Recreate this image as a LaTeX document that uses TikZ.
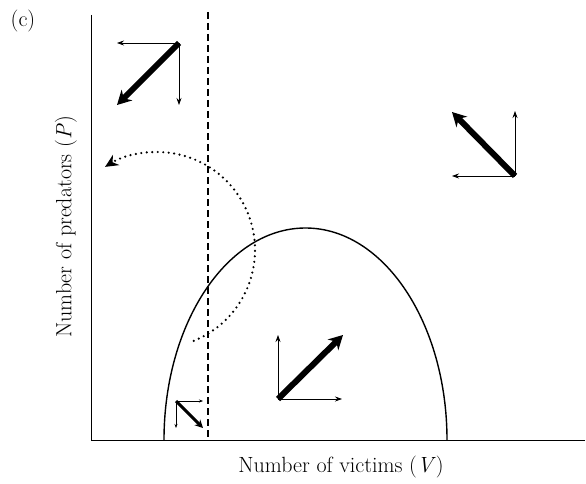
\documentclass[tikz,border=0pt]{standalone}
\usepackage{amsmath,amssymb}
\usepackage{xcolor}
\usepackage{tikz}
\usetikzlibrary{arrows.meta,positioning,calc}

\tikzset{
  flowline/.style={line width=0.7pt,-{Stealth[length=7pt,width=5pt]}},
  trendline/.style={line width=6pt,-{Stealth[length=14pt,width=15pt]}},
  smalltrend/.style={line width=3pt,-{Stealth[length=8pt,width=8pt]}},
  axislabel/.style={font=\fontsize{22}{26}\selectfont},
}

\begin{document}
\begin{tikzpicture}[x=1pt,y=1pt]
  \useasboundingbox (0,0) rectangle (586,483);
  % axes
  \coordinate (O) at (91,43);
  \coordinate (ytop) at (91,468);
  \coordinate (xend) at (585,43);
  \draw[line width=0.7pt] (ytop) -- (O) -- (xend);
  \node[axislabel] (lab) at (23,462) {(c)};
  \node[axislabel] (xlab) at (341,16) {Number of victims (\textit{V})};
  \node[axislabel,rotate=90] (ylab) at (66,256) {Number of predators (\textit{P})};
  % isoclines
  \coordinate (dtop) at (208,471);
  \coordinate (dbot) at (208,43);
  \draw[line width=1.3pt,dash pattern=on 7pt off 4pt] (dtop) -- (dbot);
  \coordinate (hump) at (164,43);
  \draw[line width=1.4pt] (hump) arc[start angle=180,end angle=0,x radius=141.5,y radius=212];
  % cycle
  \coordinate (cyc) at ($(157,233)+(-68:98)$);
  \draw[line width=2.4pt,line cap=round,dash pattern=on 0pt off 5.5pt,
        -{Stealth[length=13pt,width=12pt,line cap=butt]}]
    (cyc) arc[start angle=-68,end angle=122,radius=98];
  % upper left
  \coordinate (a0) at (179,440);
  \coordinate (a1) at (117,440);
  \coordinate (a2) at (179,378);
  \coordinate (a3) at (117,378);
  \draw[flowline] (a0) -- (a1);
  \draw[flowline] (a0) -- (a2);
  \draw[trendline] (a0) -- (a3);
  % upper right
  \coordinate (b0) at (515,307);
  \coordinate (b1) at (452,307);
  \coordinate (b2) at (515,372);
  \coordinate (b3) at (452,371);
  \draw[flowline] (b0) -- (b1);
  \draw[flowline] (b0) -- (b2);
  \draw[trendline] (b0) -- (b3);
  % inside hump
  \coordinate (c0) at (278,84);
  \coordinate (c1) at (342,84);
  \coordinate (c2) at (278,148);
  \coordinate (c3) at (343,148);
  \draw[flowline] (c0) -- (c1);
  \draw[flowline] (c0) -- (c2);
  \draw[trendline] (c0) -- (c3);
  % small corner
  \coordinate (d0) at (176,82);
  \coordinate (d1) at (203,82);
  \coordinate (d2) at (176,55);
  \coordinate (d3) at (203,55);
  \draw[line width=0.6pt,-{Stealth[length=4pt,width=3pt]}] (d0) -- (d1);
  \draw[line width=0.6pt,-{Stealth[length=4pt,width=3pt]}] (d0) -- (d2);
  \draw[smalltrend] (d0) -- (d3);
\end{tikzpicture}
\end{document}
